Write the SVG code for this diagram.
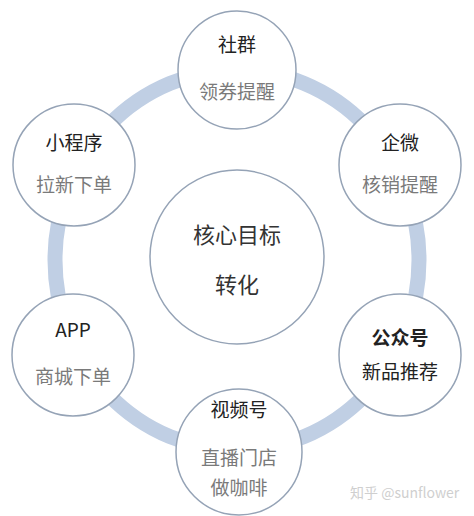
<svg xmlns="http://www.w3.org/2000/svg" width="474" height="516" viewBox="0 0 474 516">
<style>
.node{fill:#ffffff;stroke:#95a3b6;stroke-width:1.5}
.t{font-family:"Noto Sans CJK SC","Noto Sans",sans-serif;font-size:19px;fill:#222;text-anchor:middle}
.s{font-family:"Noto Sans CJK SC","Noto Sans",sans-serif;font-size:19px;fill:#7a7a7a;text-anchor:middle}
.c{font-family:"Noto Sans CJK SC","Noto Sans",sans-serif;font-size:22px;fill:#333;text-anchor:middle}
.wm{font-family:"Noto Sans CJK SC","Noto Sans",sans-serif;font-size:14px;fill:#cfcfcf}
</style>
<rect width="474" height="516" fill="#ffffff"/>
<g id="connectors">
<ellipse cx="237" cy="260" rx="182" ry="190" fill="none" stroke="#c0cfe4" stroke-width="15"/>
</g>
<g id="center">
<circle class="node" cx="237" cy="257" r="87"/>
<text class="c" x="237" y="243">核心目标</text>
<text class="c" x="237" y="293">转化</text>
</g>
<g id="shequn">
<circle class="node" cx="237" cy="70" r="59"/>
<text class="t" x="237" y="52">社群</text>
<text class="s" x="237" y="99">领券提醒</text>
</g>
<g id="qiwei">
<circle class="node" cx="400" cy="165" r="61"/>
<text class="t" x="400" y="150">企微</text>
<text class="s" x="400" y="192">核销提醒</text>
</g>
<g id="gongzhonghao">
<circle class="node" cx="400" cy="355" r="61"/>
<text class="t" x="400" y="345" font-weight="bold">公众号</text>
<text class="t" x="400" y="379" fill="#333">新品推荐</text>
</g>
<g id="shipinhao">
<circle class="node" cx="239" cy="452" r="63"/>
<text class="t" x="239" y="417">视频号</text>
<text class="s" x="239" y="465">直播门店</text>
<text class="s" x="239" y="495">做咖啡</text>
</g>
<g id="app">
<circle class="node" cx="73" cy="355" r="61"/>
<text class="t" x="73" y="337" font-family="'Liberation Sans',sans-serif">APP</text>
<text class="s" x="73" y="384">商城下单</text>
</g>
<g id="xiaochengxu">
<circle class="node" cx="74" cy="165" r="61"/>
<text class="t" x="74" y="150">小程序</text>
<text class="s" x="74" y="192">拉新下单</text>
</g>
<text class="wm" x="350" y="498">知乎 @sunflower</text>
</svg>
